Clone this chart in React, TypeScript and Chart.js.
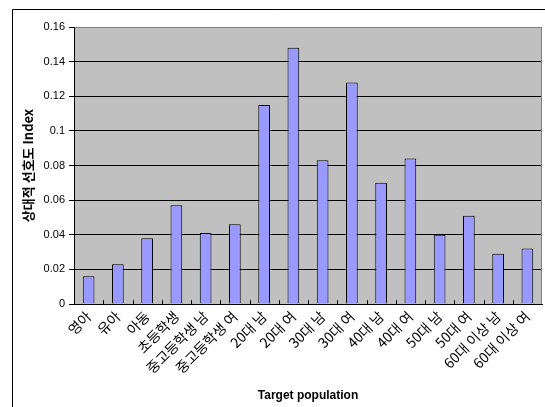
import React, { useEffect, useRef } from "react";
import { Chart, registerables } from "chart.js";

Chart.register(...registerables);

const categories = [
  "영아",
  "유아",
  "아동",
  "초등학생",
  "중고등학생 남",
  "중고등학생 여",
  "20대 남",
  "20대 여",
  "30대 남",
  "30대 여",
  "40대 남",
  "40대 여",
  "50대 남",
  "50대 여",
  "60대 이상 남",
  "60대 이상 여",
];

const indexValues = [
  0.016, 0.023, 0.038, 0.057, 0.041, 0.046, 0.115, 0.148, 0.083, 0.128, 0.07,
  0.084, 0.04, 0.051, 0.029, 0.032,
];

const yMin = 0;
const yMax = 0.16;
const yStep = 0.02;

const xTitle = "Target population";
const yTitle = "상대적 선호도 Index";

const FONT = "'Liberation Sans', Arial, 'Noto Sans CJK KR', sans-serif";
const KFONT = "'Noto Sans CJK KR', 'Liberation Sans', sans-serif";

const framePlugin = {
  id: "frame",
  beforeDraw(chart: any) {
    const { ctx, chartArea } = chart;
    ctx.save();
    ctx.fillStyle = "#C0C0C0";
    ctx.fillRect(
      chartArea.left,
      chartArea.top,
      chartArea.right - chartArea.left,
      chartArea.bottom - chartArea.top
    );
    ctx.restore();
  },
  afterDraw(chart: any) {
    const { ctx, chartArea, width, height } = chart;
    const xs = chart.scales.x;
    ctx.save();
    ctx.strokeStyle = "#000";
    ctx.lineWidth = 1;
    ctx.beginPath();
    ctx.moveTo(12.5, height);
    ctx.lineTo(12.5, 9.5);
    ctx.lineTo(width, 9.5);
    ctx.stroke();
    ctx.strokeStyle = "#808080";
    ctx.beginPath();
    ctx.moveTo(Math.round(chartArea.right) - 0.5, chartArea.top);
    ctx.lineTo(Math.round(chartArea.right) - 0.5, chartArea.bottom);
    ctx.stroke();
    ctx.strokeStyle = "#000";
    const n = categories.length;
    const step = (xs.right - xs.left) / n;
    ctx.beginPath();
    for (let i = 1; i < n; i++) {
      const x = Math.round(xs.left + i * step) + 0.5;
      ctx.moveTo(x, chartArea.bottom - 4);
      ctx.lineTo(x, chartArea.bottom);
    }
    ctx.stroke();
    ctx.restore();
  },
};

export default function App() {
  const ref = useRef<HTMLCanvasElement | null>(null);

  useEffect(() => {
    document.body.style.margin = "0";
    const canvas = ref.current;
    if (!canvas) return;
    const chart = new Chart(canvas, {
      type: "bar",
      data: {
        labels: categories,
        datasets: [
          {
            data: indexValues,
            backgroundColor: "#9999FF",
            borderColor: "#000000",
            borderWidth: 1,
            barPercentage: 0.4,
            categoryPercentage: 1.0,
          },
        ],
      },
      options: {
        responsive: false,
        animation: false,
        devicePixelRatio: 1,
        layout: { padding: { left: 0, top: 27, right: 3, bottom: 0 } },
        plugins: {
          legend: { display: false },
          tooltip: { enabled: false },
        },
        scales: {
          x: {
            grid: { display: false, drawOnChartArea: false, drawTicks: false },
            border: { display: true, color: "#000", width: 1 },
            ticks: {
              autoSkip: false,
              minRotation: 45,
              maxRotation: 45,
              padding: 4,
              color: "#000",
              font: { family: KFONT, size: 14 },
            },
            title: {
              display: true,
              text: xTitle,
              color: "#000",
              font: { family: FONT, size: 12, weight: "bold" },
              padding: { top: 0, bottom: 4 },
            },
            afterFit: (s: any) => {
              s.height = 103;
            },
          },
          y: {
            min: yMin,
            max: yMax,
            ticks: {
              stepSize: yStep,
              padding: 4,
              color: "#000",
              font: { family: FONT, size: 11 },
              callback: (v: any) => String(Number(Number(v).toFixed(2))),
            },
            grid: {
              color: (c: any) =>
                c.tick && c.tick.value >= yMax - 1e-9 ? "#808080" : "#000",
              tickColor: "#000",
              tickLength: 5,
              drawTicks: true,
              lineWidth: 1,
            },
            border: { display: true, color: "#000", width: 1 },
            title: {
              display: true,
              text: yTitle,
              color: "#000",
              font: { family: KFONT, size: 13, weight: "bold" },
              padding: { top: 20, bottom: 0 },
            },
            afterFit: (s: any) => {
              s.width = 74;
            },
          },
        },
      },
      plugins: [framePlugin],
    });
    return () => chart.destroy();
  }, []);

  return (
    <div style={{ position: "absolute", left: 0, top: 0, width: 545, height: 407 }}>
      <canvas ref={ref} width={545} height={407} style={{ width: 545, height: 407 }} />
    </div>
  );
}
